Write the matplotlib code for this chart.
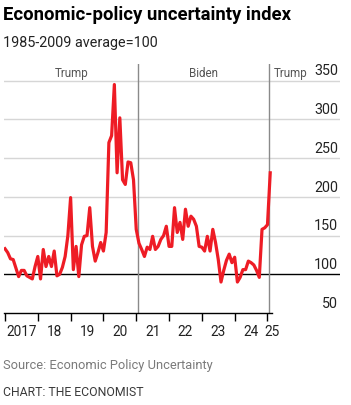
import matplotlib
matplotlib.use("Agg")
import matplotlib.pyplot as plt
import numpy as np

plt.rcParams['font.family'] = ['Roboto', 'DejaVu Sans']

# monthly index, Jan 2017 .. Feb 2025
start_year = 2017
epu = [133, 128, 120, 119, 108, 97, 105, 105, 98, 96, 94, 110,
       123, 94, 132, 110, 123, 110, 130, 98, 100, 109, 123, 150,
       199, 106, 136, 97, 138, 149, 150, 186, 136, 117, 128, 141,
       130, 154, 270, 279, 345, 231, 302, 222, 216, 245, 244, 222,
       158, 140, 132, 123, 135, 132, 149, 132, 136, 145, 150, 162,
       136, 136, 186, 154, 167, 145, 184, 162, 175, 171, 162, 136,
       135, 130, 149, 130, 158, 141, 119, 90, 105, 118, 126, 115,
       122, 90, 96, 106, 106, 117, 115, 112, 105, 96, 158, 160,
       164, 231]

years = [2017, 2018, 2019, 2020, 2021, 2022, 2023, 2024, 2025]
year_labels = ["2017", "18", "19", "20", "21", "22", "23", "24", "25"]
yticks = [50, 100, 150, 200, 250, 300, 350]
terms = [("Trump", 2017.0, 2021.05), ("Biden", 2021.05, 2025.05), ("Trump", 2025.05, None)]

t = start_year + np.arange(len(epu)) / 12.0

fig = plt.figure(figsize=(3.51, 4.05), dpi=100)
ax = fig.add_axes([4/351, 1 - 313/405, 336/351, 249/405])

x0, x1 = 2016.97, 2027.21
ax.set_xlim(x0, x1)
ax.set_ylim(50, 371.5)

for v in yticks:
    if v == 50:
        continue
    ax.axhline(v, color='black' if v == 100 else '#d6d6d6', lw=1.0, zorder=1)
    ax.text(x1 - 0.05, v + 3, str(v), ha='right', va='bottom', fontsize=10.3, color='#222222')
ax.text(x1 - 0.05, 53, "50", ha='right', va='bottom', fontsize=10.3, color='#222222')

for name, a, b in terms:
    if a > 2017.0:
        ax.axvline(a, color='#8a8a8a', lw=1.0, zorder=2)
    if b is not None:
        cx, ha = (a + b) / 2, 'center'
    else:
        cx, ha = a + 0.15, 'left'
    ax.text(cx, 368, name, ha=ha, va='top', fontsize=8.4, color='#555555')

ax.plot(t, epu, color='#ee1c25', lw=2.3, solid_joinstyle='round', zorder=3)

for s in ['top', 'right', 'left']:
    ax.spines[s].set_visible(False)
ax.spines['bottom'].set_bounds(x0, 2025.15)
ax.spines['bottom'].set_color('black')
ax.spines['bottom'].set_linewidth(1.0)
ax.set_yticks([])
ax.set_xticks(years)
ax.set_xticklabels([])
ax.tick_params(axis='x', direction='out', length=5.5, width=1.0, color='black')

label_pos = [y + 0.5 for y in years[:-1]] + [2025.15]
for p, lab in zip(label_pos, year_labels):
    ax.text(p, 25, lab, ha='center', va='center', fontsize=9.8, color='#222222', clip_on=False)

fig.text(3/351, 1 - 15/405, "Economic-policy uncertainty index", ha='left', va='center',
         fontsize=13.3, fontweight='bold', color='black')
fig.text(3/351, 1 - 43/405, "1985-2009 average=100", ha='left', va='center',
         fontsize=10.4, color='#222222')
fig.text(3/351, 1 - 365/405, "Source: Economic Policy Uncertainty", ha='left', va='center',
         fontsize=9.3, color='#7a7a7a')
fig.text(3/351, 1 - 392/405, "CHART: THE ECONOMIST", ha='left', va='center',
         fontsize=8.8, color='#3a3a3a')

fig.savefig("out.png", dpi=100)
